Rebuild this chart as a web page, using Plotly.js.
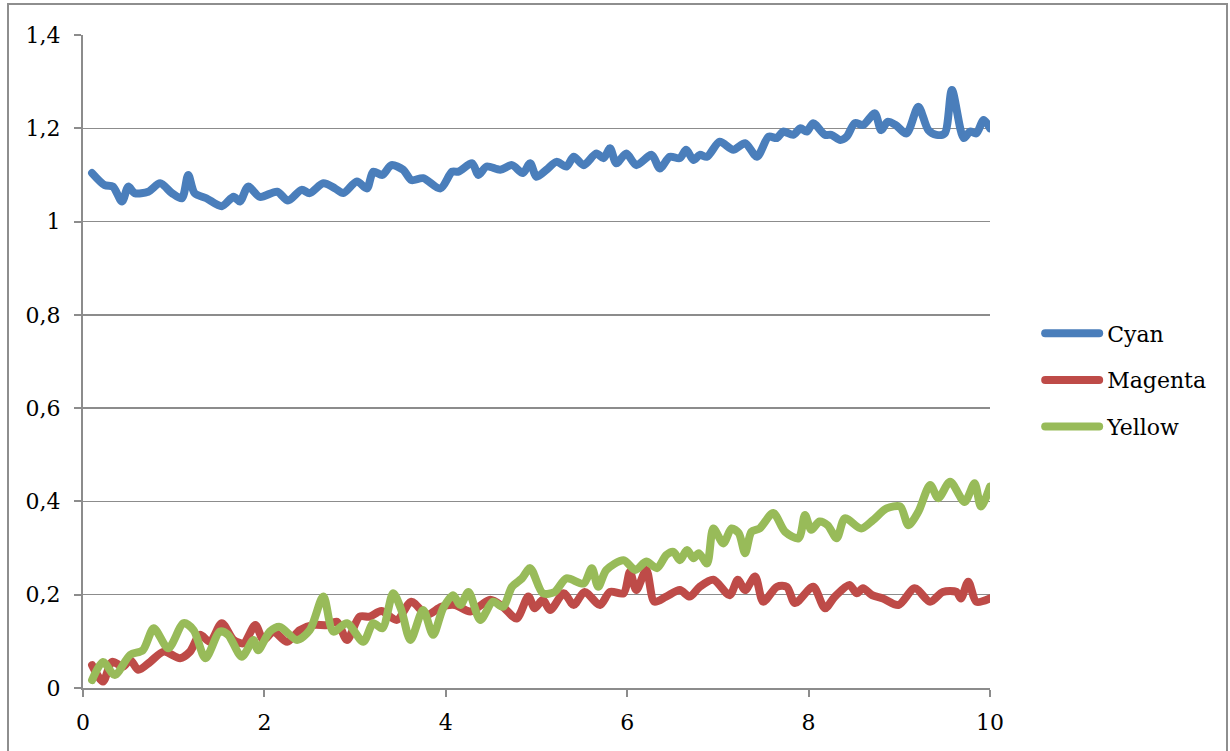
<!DOCTYPE html>
<html>
<head>
<meta charset="utf-8">
<script src="https://cdn.plot.ly/plotly-3.0.1.min.js"></script>
<style>
  html, body { margin: 0; padding: 0; background: #ffffff; overflow: hidden; }
  #frame { position: absolute; left: 7px; top: 3px; width: 1221px; height: 800px; box-sizing: border-box; border: 2px solid #8e8e8e; pointer-events: none; z-index: 5; }
  #chart { position: absolute; left: 0; top: 0; width: 1230px; height: 751px; }
  .scatterlayer .js-line { stroke-linecap: round !important; stroke-linejoin: round !important; }
  .legendlines path { stroke-linecap: round !important; }
</style>
</head>
<body>
<div id="chart"></div>
<div id="frame"></div>
<script>
// ---- data ----
const seriesNames = ["Cyan", "Magenta", "Yellow"];
const seriesColors = ["#4A7EBB", "#BE4B48", "#98BB59"];

const cyanX = [0.1,0.24,0.33,0.43,0.5,0.57,0.72,0.85,0.98,1.09,1.16,1.23,1.36,1.53,1.66,1.73,1.82,1.95,2.14,2.26,2.41,2.5,2.65,2.78,2.87,3.02,3.13,3.2,3.3,3.4,3.53,3.62,3.75,3.94,4.07,4.14,4.29,4.36,4.45,4.6,4.73,4.85,4.93,5.0,5.11,5.22,5.33,5.41,5.52,5.66,5.74,5.81,5.88,5.99,6.1,6.27,6.36,6.47,6.58,6.65,6.73,6.8,6.88,7.02,7.17,7.3,7.43,7.56,7.65,7.72,7.83,7.91,7.98,8.05,8.18,8.25,8.35,8.42,8.51,8.6,8.73,8.8,8.87,8.96,9.08,9.21,9.32,9.41,9.5,9.58,9.71,9.78,9.85,9.93,10.0];
const cyanY = [1.104,1.078,1.075,1.043,1.075,1.061,1.064,1.082,1.061,1.050,1.100,1.061,1.050,1.033,1.053,1.043,1.075,1.053,1.064,1.045,1.068,1.061,1.082,1.071,1.061,1.086,1.071,1.107,1.100,1.121,1.111,1.089,1.093,1.071,1.107,1.107,1.125,1.100,1.118,1.111,1.121,1.104,1.125,1.096,1.111,1.128,1.118,1.139,1.121,1.146,1.136,1.157,1.125,1.146,1.121,1.143,1.114,1.139,1.136,1.154,1.132,1.143,1.139,1.171,1.154,1.168,1.139,1.182,1.179,1.193,1.186,1.200,1.193,1.211,1.186,1.186,1.175,1.182,1.211,1.207,1.232,1.196,1.214,1.207,1.189,1.246,1.196,1.186,1.189,1.282,1.179,1.193,1.189,1.218,1.200];

const magentaX = [0.1,0.22,0.32,0.44,0.52,0.61,0.74,0.89,1.07,1.18,1.29,1.4,1.53,1.66,1.77,1.9,1.99,2.1,2.25,2.39,2.54,2.69,2.8,2.91,3.05,3.16,3.29,3.46,3.62,3.79,3.95,4.1,4.27,4.49,4.63,4.78,4.91,4.98,5.07,5.15,5.3,5.41,5.53,5.7,5.81,5.96,6.03,6.1,6.21,6.3,6.43,6.58,6.69,6.8,6.95,7.13,7.22,7.3,7.41,7.5,7.65,7.76,7.85,8.05,8.18,8.29,8.45,8.53,8.6,8.7,8.82,8.99,9.17,9.34,9.48,9.63,9.68,9.76,9.85,10.0];
const magentaY = [0.049,0.014,0.056,0.046,0.060,0.039,0.056,0.078,0.064,0.078,0.114,0.099,0.139,0.103,0.096,0.135,0.103,0.121,0.099,0.124,0.135,0.135,0.142,0.103,0.153,0.153,0.165,0.146,0.185,0.157,0.174,0.178,0.164,0.189,0.174,0.149,0.196,0.171,0.189,0.167,0.203,0.178,0.206,0.178,0.206,0.203,0.249,0.210,0.253,0.185,0.196,0.210,0.196,0.217,0.232,0.199,0.232,0.210,0.239,0.185,0.217,0.217,0.182,0.217,0.171,0.196,0.221,0.203,0.214,0.199,0.192,0.178,0.214,0.185,0.206,0.206,0.192,0.228,0.185,0.192];

const yellowX = [0.1,0.22,0.35,0.52,0.66,0.78,0.94,1.11,1.22,1.35,1.51,1.6,1.75,1.88,1.93,2.06,2.17,2.36,2.5,2.65,2.76,2.91,3.09,3.2,3.3,3.42,3.51,3.61,3.75,3.86,3.97,4.08,4.16,4.25,4.38,4.52,4.63,4.73,4.84,4.93,5.07,5.2,5.33,5.52,5.61,5.68,5.77,5.96,6.09,6.21,6.33,6.43,6.51,6.58,6.66,6.73,6.79,6.88,6.95,7.06,7.15,7.23,7.3,7.37,7.46,7.61,7.74,7.89,7.96,8.03,8.12,8.21,8.31,8.4,8.58,8.71,8.86,9.01,9.1,9.21,9.34,9.43,9.56,9.72,9.83,9.9,10.0];
const yellowY = [0.017,0.056,0.028,0.071,0.081,0.128,0.085,0.139,0.124,0.064,0.121,0.114,0.067,0.103,0.081,0.121,0.131,0.103,0.124,0.196,0.121,0.139,0.099,0.139,0.128,0.203,0.167,0.103,0.167,0.114,0.171,0.199,0.178,0.206,0.146,0.185,0.174,0.217,0.235,0.257,0.203,0.206,0.235,0.224,0.257,0.217,0.253,0.274,0.253,0.271,0.257,0.285,0.292,0.274,0.296,0.278,0.289,0.267,0.342,0.310,0.342,0.332,0.289,0.335,0.342,0.375,0.335,0.321,0.371,0.339,0.357,0.349,0.321,0.364,0.342,0.360,0.385,0.389,0.349,0.378,0.435,0.407,0.442,0.399,0.439,0.389,0.432];

const xTicks = [0, 2, 4, 6, 8, 10];
const yTicks = [0, 0.2, 0.4, 0.6, 0.8, 1, 1.2, 1.4];

// ---- chart ----
const xs = [cyanX, magentaX, yellowX];
const ys = [cyanY, magentaY, yellowY];
const traces = seriesNames.map((n, i) => ({
  type: "scatter", mode: "lines", name: n,
  x: xs[i], y: ys[i],
  legendgroup: "g" + i,
  line: { color: seriesColors[i], width: 8, shape: "spline", smoothing: 0.8 },
  hoverinfo: "skip"
}));

const axisGray = "#8c8c8c";
const layout = {
  width: 1230, height: 751,
  margin: { l: 83, r: 240, t: 35, b: 63, pad: 0 },
  paper_bgcolor: "#ffffff", plot_bgcolor: "#ffffff",
  separators: ",.",
  font: { family: "DejaVu Serif, serif", size: 22, color: "#000000" },
  showlegend: true,
  hovermode: false,
  legend: {
    x: 1.052, xanchor: "left", y: 0.4717, yanchor: "middle",
    font: { family: "DejaVu Serif, serif", size: 22, color: "#000000" },
    itemwidth: 60, tracegroupgap: 15, bgcolor: "rgba(0,0,0,0)", borderwidth: 0,
    itemclick: false, itemdoubleclick: false
  },
  xaxis: {
    range: [0, 10], tickmode: "array", tickvals: xTicks,
    showgrid: false, zeroline: false,
    showline: true, linecolor: axisGray, linewidth: 2,
    ticks: "outside", ticklen: 7, tickwidth: 2, tickcolor: axisGray,
    ticklabelstandoff: 7, fixedrange: true
  },
  yaxis: {
    range: [0, 1.4], tickmode: "array", tickvals: yTicks,
    showgrid: true, gridcolor: axisGray, gridwidth: 1.5, zeroline: false,
    showline: true, linecolor: axisGray, linewidth: 2,
    ticks: "outside", ticklen: 7, tickwidth: 2, tickcolor: axisGray,
    ticklabelstandoff: 9, fixedrange: true
  }
};

Plotly.newPlot("chart", traces, layout, { staticPlot: true, displayModeBar: false }).then(() => {
  document.querySelectorAll(".legendlines path.js-line").forEach(p => {
    p.setAttribute("d", "M8,0h54");
  });
});
</script>
</body>
</html>
